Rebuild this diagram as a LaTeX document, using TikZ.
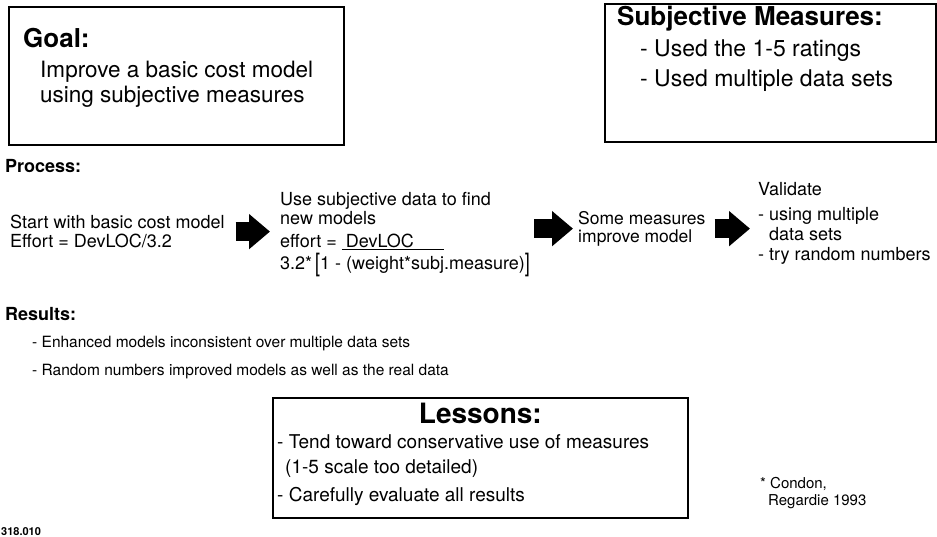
\documentclass[tikz,border=0pt]{standalone}
\usepackage{fontspec}
\setmainfont{TeX Gyre Heros}
\usetikzlibrary{arrows.meta}
\newcommand{\bigbrL}{\smash{\raisebox{-2pt}{\scalebox{1}[1.4]{[}}}}
\newcommand{\bigbrR}{\smash{\raisebox{-2pt}{\scalebox{1}[1.4]{]}}}}

\begin{document}
\begin{tikzpicture}[x=1pt, y=-1pt,
    panel/.style={draw, line width=1.7pt, anchor=north west, inner sep=0pt},
    ttl/.style={anchor=base west, inner sep=0pt, font=\fontsize{26}{28}\selectfont\bfseries},
    bigtxt/.style={anchor=north west, inner sep=0pt, align=left, font=\fontsize{22.5}{24.5}\selectfont},
    lbl/.style={anchor=base west, inner sep=0pt, font=\fontsize{18}{20}\selectfont\bfseries},
    proc/.style={anchor=north west, inner sep=0pt, align=left, font=\fontsize{18}{19}\selectfont},
    res/.style={anchor=base west, inner sep=0pt, font=\fontsize{15.5}{18}\selectfont},
    blockarr/.style={line width=19pt, -{Triangle[length=21pt, width=34pt]}}]

  \useasboundingbox (0,0) rectangle (937,537);

  % Goal box
  \node[panel, minimum width=335, minimum height=138] (goalbox) at (8,6) {};
  \node[ttl] (goal) at (23,48) {Goal:};
  \node[bigtxt] (goaltxt) at (40,61) {Improve a basic cost model\\using subjective measures};

  % Subjective measures box
  \node[panel, minimum width=331, minimum height=138] (measbox) at (604,3) {};
  \node[ttl] (meas) at (617,26) {Subjective Measures:};
  \node[bigtxt, font=\fontsize{23}{30}\selectfont] (meastxt) at (640,40) {- Used the 1-5 ratings\\- Used multiple data sets};

  % Process row
  \node[lbl] (process) at (5,173) {Process:};
  \node[proc] (start) at (10,215) {Start with basic cost model\\Effort = DevLOC/3.2};
  \node[proc] (use) at (280,192) {Use subjective data to find\\new models\\[4pt]
      effort = \underline{\hspace{4pt}DevLOC\hspace{30pt}}\\[3pt]
      3.2*\,\bigbrL 1 - (weight*subj.measure)\bigbrR};
  \node[proc, font=\fontsize{17.5}{18}\selectfont] (some) at (578,211) {Some measures\\improve model};
  \node[proc, font=\fontsize{18}{20}\selectfont] (valid) at (758,182) {Validate\\[5pt]- using multiple\\\hspace{11pt}data sets\\- try random numbers};

  \draw[blockarr] ([xshift=11]start.east) -- ([xshift=-10]start.east -| use.west);
  \draw[blockarr] ([xshift=4]use.east |- some.west) -- ([xshift=-5]some.west);
  \draw[blockarr] ([xshift=9]some.east) -- ([xshift=-8]some.east -| valid.west);

  % Results
  \node[lbl] (results) at (5,320) {Results:};
  \node[res] (res1) at (32,347) {- Enhanced models inconsistent over multiple data sets};
  \node[res] (res2) at (32,375) {- Random numbers improved models as well as the real data};

  % Lessons box
  \node[panel, minimum width=415, minimum height=120] (lessbox) at (272,397) {};
  \node[anchor=base, inner sep=0pt, font=\fontsize{28}{30}\selectfont\bfseries] (lessons) at (lessbox.north |- 0,423) {Lessons:};
  \node[bigtxt, font=\fontsize{19}{25}\selectfont] (lesstxt) at (277,434) {- Tend toward conservative use of measures\\\hspace{8pt}(1-5 scale too detailed)\\[3pt]- Carefully evaluate all results};

  % citation and slide number
  \node[anchor=north west, inner sep=0pt, align=left, font=\fontsize{15}{17}\selectfont] (cite) at (760,477) {* Condon,\\\hspace{8pt}Regardie 1993};
  \node[anchor=base west, inner sep=0pt, font=\fontsize{11}{12}\selectfont\bfseries] (slideno) at (1,535) {318.010};
\end{tikzpicture}
\end{document}
